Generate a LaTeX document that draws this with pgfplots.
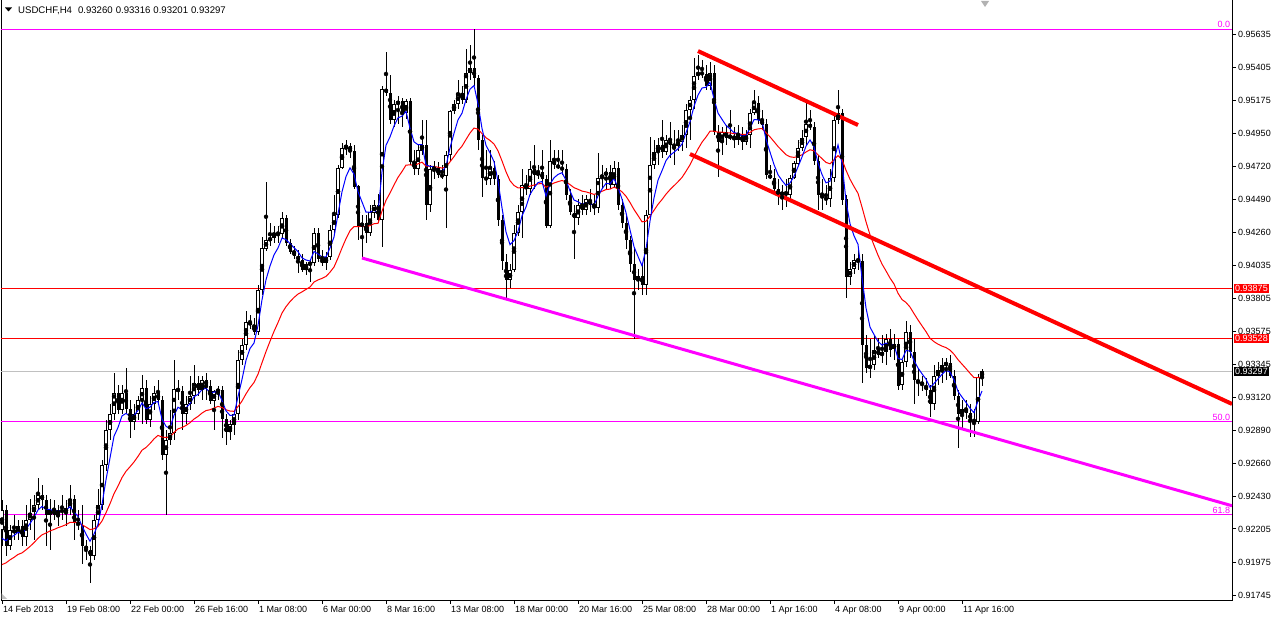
\documentclass[border=0pt]{standalone}
\usepackage{fontspec}
\setmainfont{Liberation Sans}
\usepackage{pgfplots}
\usepackage{pgfplotstable}
\pgfplotsset{compat=1.18}
\newcommand\tf{\fontsize{9bp}{10.8bp}\selectfont}
\definecolor{mag}{RGB}{255,0,255}
\definecolor{rd}{RGB}{255,0,0}
\definecolor{bl}{RGB}{0,0,255}
\definecolor{silver}{RGB}{192,192,192}

\pgfplotstableread{
x o h l c
0 0.9220 0.9241 0.9209 0.9234
1 0.9234 0.9237 0.9202 0.9209
2 0.9209 0.9223 0.9206 0.9220
3 0.9220 0.9230 0.9213 0.9218
4 0.9218 0.9227 0.9213 0.9223
5 0.9223 0.9227 0.9209 0.9215
6 0.9215 0.9237 0.9209 0.9227
7 0.9227 0.9241 0.9220 0.9232
8 0.9232 0.9244 0.9213 0.9237
9 0.9237 0.9256 0.9234 0.9244
10 0.9244 0.9251 0.9234 0.9241
11 0.9241 0.9244 0.9209 0.9230
12 0.9230 0.9241 0.9206 0.9234
13 0.9234 0.9241 0.9227 0.9230
14 0.9230 0.9237 0.9223 0.9234
15 0.9234 0.9244 0.9227 0.9232
16 0.9232 0.9241 0.9223 0.9235
17 0.9235 0.9251 0.9230 0.9241
18 0.9241 0.9244 0.9213 0.9225
19 0.9225 0.9234 0.9220 0.9223
20 0.9223 0.9237 0.9196 0.9209
21 0.9209 0.9213 0.9199 0.9206
22 0.9206 0.9209 0.9183 0.9202
23 0.9202 0.9230 0.9199 0.9227
24 0.9227 0.9248 0.9223 0.9237
25 0.9237 0.9268 0.9234 0.9265
26 0.9265 0.9296 0.9261 0.9289
27 0.9289 0.9307 0.9282 0.9300
28 0.9300 0.9329 0.9296 0.9315
29 0.9315 0.9320 0.9300 0.9303
30 0.9303 0.9320 0.9300 0.9315
31 0.9315 0.9332 0.9300 0.9304
32 0.9304 0.9310 0.9284 0.9295
33 0.9295 0.9307 0.9289 0.9300
34 0.9300 0.9313 0.9296 0.9310
35 0.9310 0.9327 0.9293 0.9318
36 0.9318 0.9324 0.9293 0.9296
37 0.9296 0.9313 0.9291 0.9307
38 0.9307 0.9320 0.9303 0.9315
39 0.9315 0.9324 0.9307 0.9310
40 0.9310 0.9313 0.9268 0.9272
41 0.9272 0.9289 0.9230 0.9282
42 0.9282 0.9303 0.9279 0.9287
43 0.9287 0.9338 0.9282 0.9318
44 0.9318 0.9324 0.9310 0.9316
45 0.9316 0.9320 0.9289 0.9300
46 0.9300 0.9313 0.9293 0.9307
47 0.9307 0.9327 0.9303 0.9313
48 0.9313 0.9334 0.9307 0.9322
49 0.9322 0.9327 0.9313 0.9317
50 0.9317 0.9327 0.9310 0.9324
51 0.9324 0.9329 0.9310 0.9320
52 0.9320 0.9324 0.9307 0.9309
53 0.9309 0.9317 0.9289 0.9316
54 0.9316 0.9320 0.9310 0.9317
55 0.9317 0.9320 0.9284 0.9297
56 0.9297 0.9300 0.9279 0.9288
57 0.9288 0.9296 0.9282 0.9293
58 0.9293 0.9303 0.9286 0.9300
59 0.9300 0.9345 0.9296 0.9338
60 0.9338 0.9352 0.9334 0.9348
61 0.9348 0.9372 0.9345 0.9364
62 0.9364 0.9369 0.9359 0.9362
63 0.9362 0.9367 0.9355 0.9357
64 0.9357 0.9390 0.9355 0.9386
65 0.9386 0.9423 0.9383 0.9415
66 0.9415 0.9461 0.9413 0.9421
67 0.9421 0.9433 0.9417 0.9422
68 0.9422 0.9431 0.9419 0.9426
69 0.9426 0.9431 0.9419 0.9425
70 0.9425 0.9440 0.9422 0.9436
71 0.9436 0.9438 0.9417 0.9419
72 0.9419 0.9422 0.9411 0.9413
73 0.9413 0.9417 0.9408 0.9410
74 0.9410 0.9414 0.9398 0.9407
75 0.9407 0.9411 0.9399 0.9400
76 0.9400 0.9406 0.9397 0.9404
77 0.9404 0.9408 0.9392 0.9405
78 0.9405 0.9429 0.9403 0.9426
79 0.9426 0.9429 0.9406 0.9408
80 0.9408 0.9414 0.9403 0.9405
81 0.9405 0.9413 0.9400 0.9409
82 0.9409 0.9431 0.9407 0.9428
83 0.9428 0.9452 0.9426 0.9438
84 0.9438 0.9473 0.9436 0.9471
85 0.9471 0.9488 0.9470 0.9485
86 0.9485 0.9490 0.9480 0.9486
87 0.9486 0.9488 0.9478 0.9483
88 0.9483 0.9487 0.9456 0.9458
89 0.9458 0.9459 0.9421 0.9430
90 0.9430 0.9438 0.9408 0.9433
91 0.9433 0.9438 0.9419 0.9426
92 0.9426 0.9445 0.9424 0.9440
93 0.9440 0.9449 0.9436 0.9445
94 0.9445 0.9453 0.9433 0.9435
95 0.9435 0.9528 0.9416 0.9526
96 0.9526 0.9551 0.9521 0.9523
97 0.9523 0.9535 0.9501 0.9504
98 0.9504 0.9518 0.9499 0.9515
99 0.9515 0.9521 0.9501 0.9517
100 0.9517 0.9519 0.9499 0.9509
101 0.9509 0.9519 0.9505 0.9517
102 0.9517 0.9519 0.9473 0.9475
103 0.9475 0.9483 0.9466 0.9470
104 0.9470 0.9487 0.9466 0.9483
105 0.9483 0.9504 0.9480 0.9487
106 0.9487 0.9504 0.9435 0.9445
107 0.9445 0.9473 0.9440 0.9470
108 0.9470 0.9476 0.9463 0.9471
109 0.9471 0.9475 0.9464 0.9466
110 0.9466 0.9473 0.9463 0.9465
111 0.9465 0.9483 0.9429 0.9480
112 0.9480 0.9511 0.9476 0.9510
113 0.9510 0.9518 0.9508 0.9515
114 0.9515 0.9532 0.9512 0.9523
115 0.9523 0.9528 0.9515 0.9518
116 0.9518 0.9553 0.9516 0.9537
117 0.9537 0.9556 0.9532 0.9540
118 0.9540 0.9567 0.9528 0.9533
119 0.9533 0.9535 0.9483 0.9490
120 0.9490 0.9494 0.9451 0.9464
121 0.9464 0.9483 0.9459 0.9463
122 0.9463 0.9483 0.9459 0.9471
123 0.9471 0.9476 0.9459 0.9463
124 0.9463 0.9466 0.9431 0.9435
125 0.9435 0.9438 0.9400 0.9406
126 0.9406 0.9411 0.9381 0.9393
127 0.9393 0.9404 0.9388 0.9400
128 0.9400 0.9431 0.9399 0.9426
129 0.9426 0.9445 0.9424 0.9440
130 0.9440 0.9470 0.9422 0.9459
131 0.9459 0.9466 0.9452 0.9456
132 0.9456 0.9476 0.9452 0.9470
133 0.9470 0.9487 0.9456 0.9466
134 0.9466 0.9473 0.9463 0.9468
135 0.9468 0.9483 0.9459 0.9463
136 0.9463 0.9466 0.9429 0.9431
137 0.9431 0.9490 0.9429 0.9476
138 0.9476 0.9483 0.9470 0.9473
139 0.9473 0.9483 0.9470 0.9471
140 0.9471 0.9483 0.9466 0.9470
141 0.9470 0.9474 0.9449 0.9452
142 0.9452 0.9456 0.9438 0.9440
143 0.9440 0.9445 0.9408 0.9436
144 0.9436 0.9449 0.9431 0.9445
145 0.9445 0.9452 0.9438 0.9442
146 0.9442 0.9452 0.9438 0.9449
147 0.9449 0.9456 0.9440 0.9445
148 0.9445 0.9452 0.9438 0.9443
149 0.9443 0.9481 0.9440 0.9464
150 0.9464 0.9473 0.9456 0.9466
151 0.9466 0.9471 0.9456 0.9468
152 0.9468 0.9473 0.9456 0.9459
153 0.9459 0.9476 0.9457 0.9471
154 0.9471 0.9475 0.9442 0.9445
155 0.9445 0.9449 0.9429 0.9433
156 0.9433 0.9438 0.9415 0.9421
157 0.9421 0.9424 0.9399 0.9404
158 0.9404 0.9416 0.9352 0.9393
159 0.9393 0.9401 0.9386 0.9396
160 0.9396 0.9404 0.9383 0.9390
161 0.9390 0.9442 0.9383 0.9438
162 0.9438 0.9492 0.9436 0.9473
163 0.9473 0.9490 0.9470 0.9482
164 0.9482 0.9492 0.9473 0.9487
165 0.9487 0.9504 0.9478 0.9482
166 0.9482 0.9494 0.9480 0.9490
167 0.9490 0.9503 0.9478 0.9487
168 0.9487 0.9497 0.9473 0.9486
169 0.9486 0.9497 0.9483 0.9489
170 0.9489 0.9501 0.9483 0.9494
171 0.9494 0.9515 0.9485 0.9511
172 0.9511 0.9521 0.9490 0.9518
173 0.9518 0.9547 0.9512 0.9535
174 0.9535 0.9549 0.9532 0.9537
175 0.9537 0.9546 0.9533 0.9536
176 0.9536 0.9542 0.9525 0.9528
177 0.9528 0.9544 0.9525 0.9537
178 0.9537 0.9542 0.9494 0.9496
179 0.9496 0.9501 0.9465 0.9489
180 0.9489 0.9499 0.9480 0.9496
181 0.9496 0.9501 0.9487 0.9492
182 0.9492 0.9511 0.9490 0.9493
183 0.9493 0.9499 0.9485 0.9490
184 0.9490 0.9501 0.9487 0.9494
185 0.9494 0.9499 0.9483 0.9489
186 0.9489 0.9497 0.9487 0.9494
187 0.9494 0.9512 0.9485 0.9509
188 0.9509 0.9525 0.9508 0.9516
189 0.9516 0.9521 0.9501 0.9504
190 0.9504 0.9511 0.9497 0.9501
191 0.9501 0.9505 0.9463 0.9466
192 0.9466 0.9473 0.9463 0.9464
193 0.9464 0.9470 0.9452 0.9456
194 0.9456 0.9463 0.9445 0.9452
195 0.9452 0.9459 0.9442 0.9454
196 0.9454 0.9463 0.9444 0.9452
197 0.9452 0.9466 0.9449 0.9464
198 0.9464 0.9476 0.9463 0.9474
199 0.9474 0.9490 0.9473 0.9485
200 0.9485 0.9497 0.9483 0.9492
201 0.9492 0.9519 0.9487 0.9501
202 0.9501 0.9511 0.9497 0.9499
203 0.9499 0.9503 0.9473 0.9476
204 0.9476 0.9480 0.9442 0.9452
205 0.9452 0.9463 0.9442 0.9450
206 0.9450 0.9459 0.9445 0.9449
207 0.9449 0.9470 0.9444 0.9464
208 0.9464 0.9508 0.9461 0.9504
209 0.9504 0.9525 0.9501 0.9509
210 0.9509 0.9512 0.9445 0.9449
211 0.9449 0.9452 0.9381 0.9395
212 0.9395 0.9406 0.9390 0.9401
213 0.9401 0.9411 0.9397 0.9407
214 0.9407 0.9414 0.9400 0.9406
215 0.9406 0.9411 0.9322 0.9348
216 0.9348 0.9355 0.9329 0.9332
217 0.9332 0.9352 0.9325 0.9334
218 0.9334 0.9355 0.9331 0.9345
219 0.9345 0.9353 0.9339 0.9341
220 0.9341 0.9355 0.9336 0.9343
221 0.9343 0.9356 0.9334 0.9352
222 0.9352 0.9359 0.9340 0.9345
223 0.9345 0.9356 0.9338 0.9349
224 0.9349 0.9352 0.9317 0.9320
225 0.9320 0.9338 0.9317 0.9336
226 0.9336 0.9365 0.9333 0.9357
227 0.9357 0.9362 0.9339 0.9343
228 0.9343 0.9352 0.9307 0.9324
229 0.9324 0.9332 0.9313 0.9322
230 0.9322 0.9327 0.9316 0.9320
231 0.9320 0.9325 0.9313 0.9317
232 0.9317 0.9320 0.9298 0.9307
233 0.9307 0.9334 0.9303 0.9327
234 0.9327 0.9336 0.9320 0.9331
235 0.9331 0.9339 0.9322 0.9334
236 0.9334 0.9339 0.9324 0.9336
237 0.9336 0.9341 0.9325 0.9327
238 0.9327 0.9331 0.9310 0.9313
239 0.9313 0.9317 0.9277 0.9300
240 0.9300 0.9310 0.9289 0.9304
241 0.9304 0.9310 0.9297 0.9301
242 0.9301 0.9307 0.9284 0.9296
243 0.9296 0.9304 0.9284 0.9295
244 0.9295 0.9328 0.9293 0.9326
245 0.93260 0.93316 0.93201 0.93297
}\candles
% moving averages of the closes (EMA 5 blue, EMA 21 red), in units of 0.0001
\pgfplotstablecreatecol[create col/expr accum={\pgfmathaccuma+(10000*\thisrow{c}-\pgfmathaccuma)/3}{9204}]{fast}{\candles}
\pgfplotstablecreatecol[create col/expr accum={\pgfmathaccuma+0.0909*(10000*\thisrow{c}-\pgfmathaccuma)}{9192}]{slow}{\candles}

\begin{document}
\begin{tikzpicture}
\useasboundingbox (0,0) rectangle (1275bp,617bp);
\fill[white] (0,0) rectangle (1275bp,617bp);
\begin{axis}[
  at={(1bp,17bp)}, anchor=south west, scale only axis,
  width=1231bp, height=600bp,
  xmin=-0.25, xmax=307.5, ymin=0.917126, ymax=0.95873,
  axis line style={black, line width=1bp},
  tick style={black, line width=1bp},
  major tick length=4bp, tick align=outside,
  xtick pos=left, ytick pos=right, yticklabel pos=right,
  xtick={0,16,...,240},
  xticklabels={14 Feb 2013,19 Feb 08:00,22 Feb 00:00,26 Feb 16:00,1 Mar 08:00,6 Mar 00:00,8 Mar 16:00,13 Mar 08:00,18 Mar 00:00,20 Mar 16:00,25 Mar 08:00,28 Mar 00:00,1 Apr 16:00,4 Apr 08:00,9 Apr 00:00,11 Apr 16:00},
  xticklabel style={anchor=north west, inner sep=0pt, xshift=1bp, yshift=-2bp, font=\tf},
  ytick={0.91745,0.91975,0.92205,0.92430,0.92660,0.92890,0.93120,0.93345,0.93575,0.93805,0.94035,0.94260,0.94490,0.94720,0.94950,0.95175,0.95405,0.95635},
  yticklabels={0.91745,0.91975,0.92205,0.92430,0.92660,0.92890,0.93120,0.93345,0.93575,0.93805,0.94035,0.94260,0.94490,0.94720,0.94950,0.95175,0.95405,0.95635},
  yticklabel style={anchor=west, inner sep=0pt, xshift=2bp, font=\tf},
  error bars/error mark=none,
]
% horizontal levels
\addplot[rd, line width=1bp] coordinates {(-0.25,0.93875) (307.5,0.93875)};
\addplot[rd, line width=1bp] coordinates {(-0.25,0.93528) (307.5,0.93528)};
\addplot[silver, line width=1bp] coordinates {(-0.25,0.93297) (307.5,0.93297)};
\addplot[mag, line width=1bp] coordinates {(-0.25,0.95670) (307.5,0.95670)};
\addplot[mag, line width=1bp] coordinates {(-0.25,0.92947) (307.5,0.92947)};
\addplot[mag, line width=1bp] coordinates {(-0.25,0.92302) (307.5,0.92302)};
% wicks
\addplot[only marks, mark=none, error bars/.cd, y dir=both, y explicit,
  error bar style={solid, black, line width=1bp}]
  table[x=x, y expr={(\thisrow{h}+\thisrow{l})/2}, y error expr={(\thisrow{h}-\thisrow{l})/2}] {\candles};
% bearish bodies
\addplot[only marks, mark=none, restrict expr to domain={\thisrow{o}-\thisrow{c}}{0.0000001:1},
  error bars/.cd, y dir=both, y explicit,
  error bar style={solid, black, line width=3bp}]
  table[x=x, y expr={(\thisrow{o}+\thisrow{c})/2}, y error expr={max(abs(\thisrow{o}-\thisrow{c})/2,0.000036)}] {\candles};
% bullish bodies (outline + white inside)
\addplot[only marks, mark=none, restrict expr to domain={\thisrow{c}-\thisrow{o}}{0:1},
  error bars/.cd, y dir=both, y explicit,
  error bar style={solid, black, line width=3.6bp}]
  table[x=x, y expr={(\thisrow{o}+\thisrow{c})/2}, y error expr={max(abs(\thisrow{o}-\thisrow{c})/2,0.000036)}] {\candles};
\addplot[only marks, mark=none, restrict expr to domain={\thisrow{c}-\thisrow{o}}{0:1},
  error bars/.cd, y dir=both, y explicit,
  error bar style={solid, white, line width=1.6bp}]
  table[x=x, y expr={(\thisrow{o}+\thisrow{c})/2}, y error expr={max(abs(\thisrow{o}-\thisrow{c})/2-0.00007,0)}] {\candles};
% moving averages
\addplot[rd, line width=1bp, mark=none] table[x=x, y expr={\thisrow{slow}/10000}] {\candles};
\addplot[bl, line width=1bp, mark=none] table[x=x, y expr={\thisrow{fast}/10000}] {\candles};
% trend lines
\addplot[mag, line width=3bp] coordinates {(90,0.94084) (307.5,0.92366)};
\addplot[rd, line width=4bp] coordinates {(172,0.94805) (307.5,0.93072)};
\addplot[rd, line width=4bp] coordinates {(174,0.95519) (214,0.95006)};
% fibo labels
\node[anchor=south east, inner sep=1bp, text=mag, font=\tf] at (axis cs:307.3,0.95670) {0.0};
\node[anchor=south east, inner sep=1bp, text=mag, font=\tf] at (axis cs:307.3,0.92947) {50.0};
\node[anchor=south east, inner sep=1bp, text=mag, font=\tf] at (axis cs:307.3,0.92302) {61.8};
\coordinate (b1) at (axis cs:307.5,0.93875);
\coordinate (b2) at (axis cs:307.5,0.93528);
\coordinate (b3) at (axis cs:307.5,0.93297);
\end{axis}
\node[anchor=west, fill=rd, text=white, inner xsep=1.5bp, inner ysep=1.2bp, font=\tf] at ([xshift=1.5bp]b1) {0.93875};
\node[anchor=west, fill=rd, text=white, inner xsep=1.5bp, inner ysep=1.2bp, font=\tf] at ([xshift=1.5bp]b2) {0.93528};
\node[anchor=west, fill=black, text=white, inner xsep=1.5bp, inner ysep=1.2bp, font=\tf] at ([xshift=1.5bp]b3) {0.93297};
% title
\fill[black] (5bp,609.5bp) -- (12bp,609.5bp) -- (8.5bp,605.5bp) -- cycle;
\node[anchor=base west, inner sep=0pt, font=\fontsize{9.6bp}{11bp}\selectfont] at (18bp,603.5bp) {USDCHF,H4\hspace{6bp}0.93260\hspace{3bp}0.93316\hspace{3bp}0.93201\hspace{3bp}0.93297};
\fill[gray!60] (981bp,616bp) -- (989bp,616bp) -- (985bp,610bp) -- cycle;
\fill[gray!50] (1.5bp,18bp) -- (7bp,18bp) -- (1.5bp,23.5bp) -- cycle;
\end{tikzpicture}
\end{document}
